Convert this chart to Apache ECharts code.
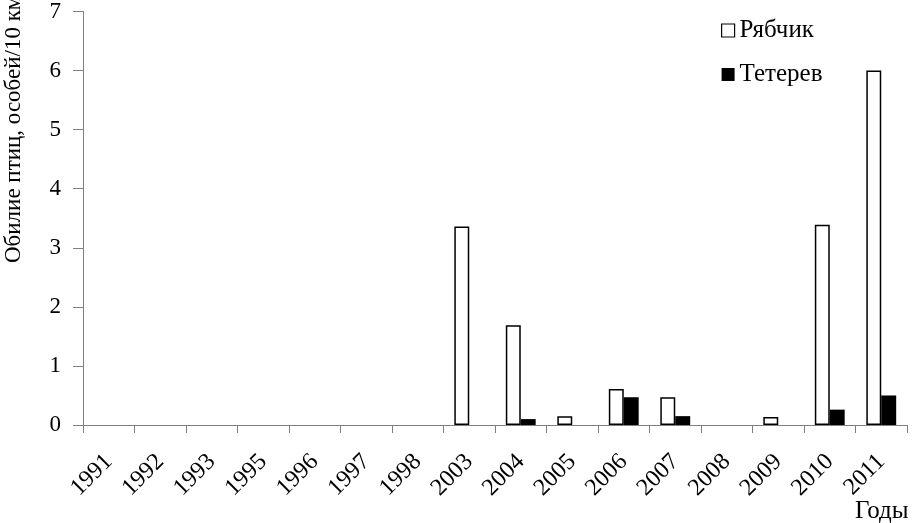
<!DOCTYPE html>
<html>
<head>
<meta charset="utf-8">
<script src="https://cdn.jsdelivr.net/npm/echarts@6/dist/echarts.min.js"></script>
<style>html,body{margin:0;padding:0;background:#fff}#c{width:917px;height:523px}</style>
</head>
<body>
<div id="c"></div>
<script>
const years = ['1991','1992','1993','1995','1996','1997','1998','2003','2004','2005','2006','2007','2008','2009','2010','2011'];
const ryabchik = [0,0,0,0,0,0,0,3.36,1.69,0.15,0.61,0.47,0,0.135,3.39,6.0];
const teterev  = [0,0,0,0,0,0,0,0,0.1,0,0.47,0.15,0,0,0.26,0.5];
const yTicks = [0,1,2,3,4,5,6,7];

const font = 'Liberation Serif';
const noZeroBorder = arr => arr.map(v => v === 0 ? {value: v, itemStyle: {borderWidth: 0}} : v);
const chart = echarts.init(document.getElementById('c'), null, {renderer:'canvas'});
chart.setOption({
  animation:false,
  backgroundColor:'#fff',
  grid:{left:83,right:10,top:10,bottom:98,containLabel:false},
  legend:{
    orient:'vertical', left:716, top:13, itemGap:19, itemWidth:13, itemHeight:13, icon:'rect',
    textStyle:{fontFamily:font,fontSize:25,color:'#000'},
    data:[
      {name:'Рябчик', itemStyle:{color:'#fff',borderColor:'#000',borderWidth:1.2}},
      {name:'Тетерев', itemStyle:{color:'#000'}}
    ]
  },
  xAxis:{
    type:'category', data:years,
    axisLine:{lineStyle:{color:'#808080',width:1}},
    axisTick:{show:true,alignWithLabel:false,length:8,lineStyle:{color:'#808080'}},
    axisLabel:{rotate:45,margin:33,fontFamily:font,fontSize:24,color:'#000',interval:0}
  },
  yAxis:{
    type:'value', min:yTicks[0], max:yTicks[yTicks.length-1], interval:1,
    splitLine:{show:false},
    axisLine:{show:true,lineStyle:{color:'#808080',width:1}},
    axisTick:{show:true,length:10,lineStyle:{color:'#808080'}},
    axisLabel:{margin:22,fontFamily:font,fontSize:23,color:'#000'}
  },
  graphic:[
    {type:'text', rotation:Math.PI/2, x:2, y:263,
     style:{text:'Обилие птиц, особей/10 км', fontFamily:font, fontSize:23, fill:'#000'}},
    {type:'text', left:855, top:499, style:{text:'Годы', fontFamily:font, fontSize:25, fill:'#000'}}
  ],
  series:[
    {name:'Рябчик', type:'bar', data:noZeroBorder(ryabchik), barGap:'0%', barCategoryGap:'42%',
     itemStyle:{color:'#fff',borderColor:'#000',borderWidth:1.5}},
    {name:'Тетерев', type:'bar', data:teterev, barGap:'0%', barCategoryGap:'42%',
     itemStyle:{color:'#000'}}
  ]
});
</script>
</body>
</html>
